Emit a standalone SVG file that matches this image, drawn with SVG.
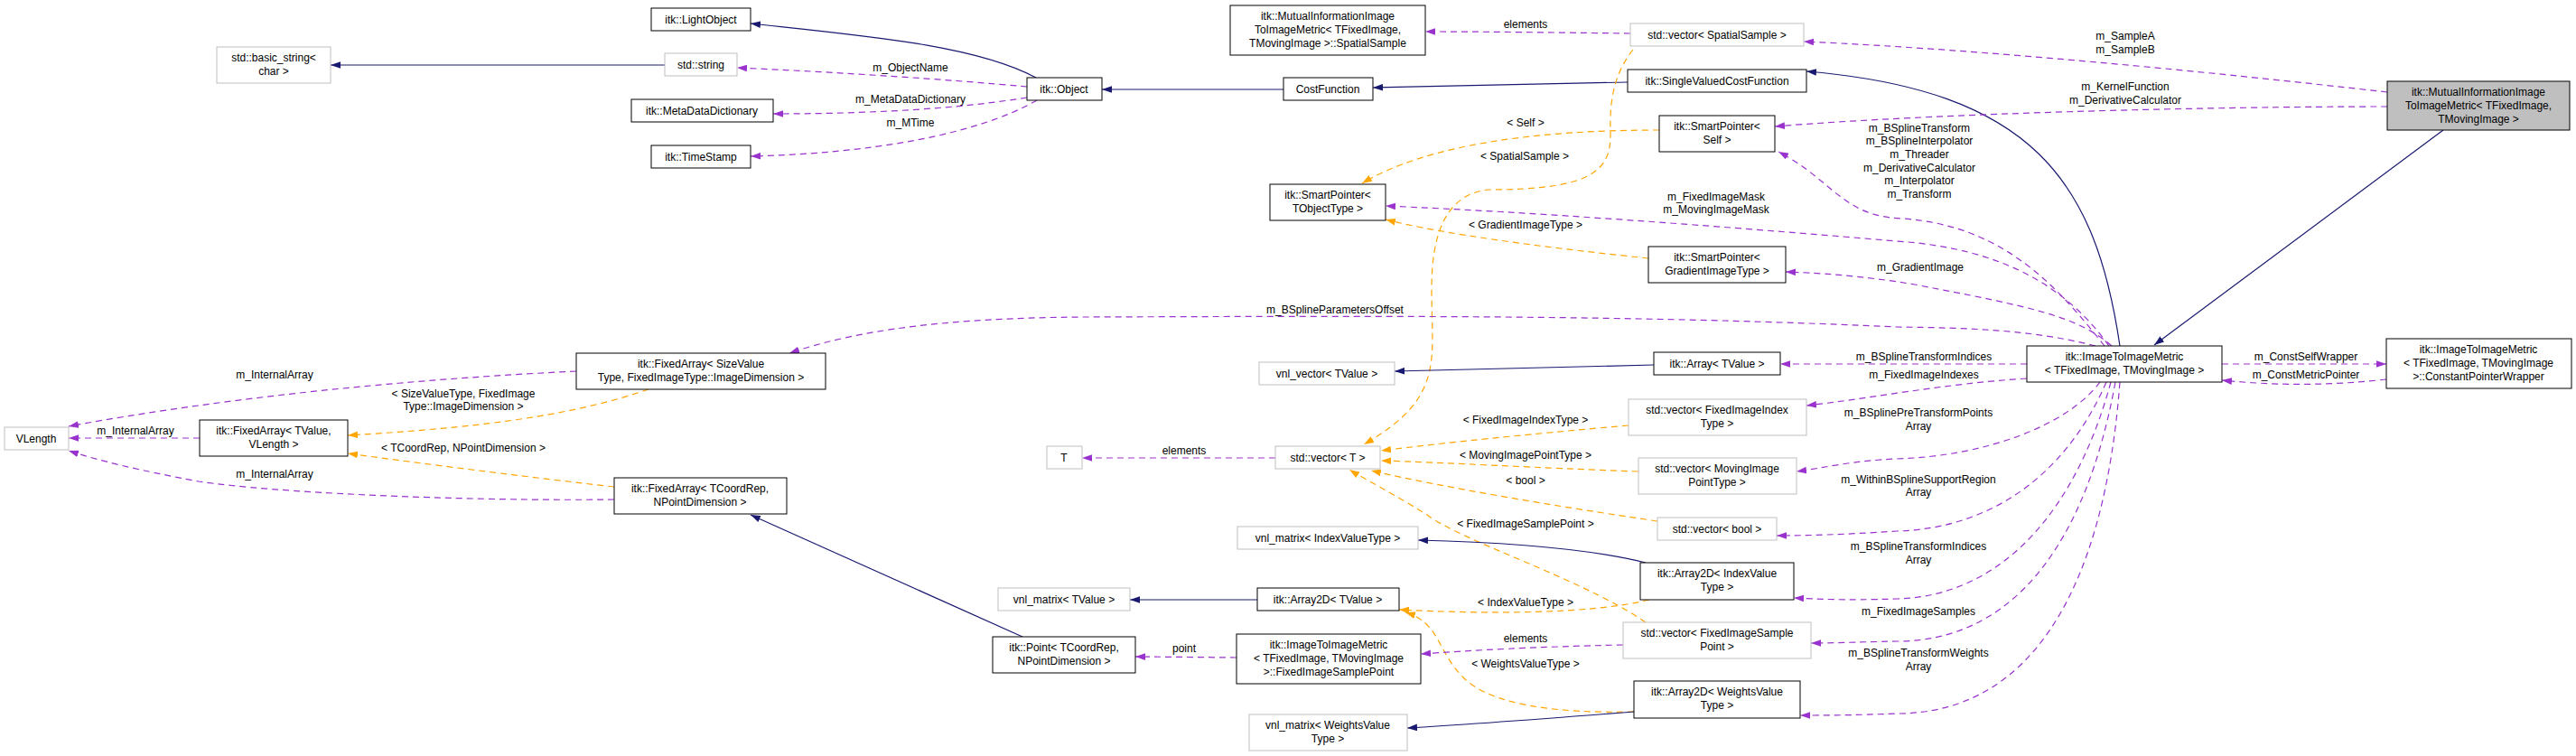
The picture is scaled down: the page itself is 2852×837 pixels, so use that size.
<svg xmlns="http://www.w3.org/2000/svg" width="2852" height="837" viewBox="0 0 2852 837">
<style>
text{font-family:"Liberation Sans",Arial,sans-serif;font-size:12px;fill:#000;text-anchor:middle}
.n rect{fill:#fff;stroke:#000;stroke-width:1}
.g rect{fill:#fff;stroke:#bfbfbf;stroke-width:1}
.inh{fill:none;stroke:#191970;stroke-width:1.2;marker-end:url(#mn)}
.use{fill:none;stroke:#9a32cd;stroke-width:1.2;stroke-dasharray:7,5;marker-end:url(#mp)}
.tpl{fill:none;stroke:#ffa500;stroke-width:1.2;stroke-dasharray:7,5;marker-end:url(#mo)}
</style>
<defs>
<marker id="mn" viewBox="0 0 10 7" refX="10" refY="3.5" markerWidth="11" markerHeight="8" markerUnits="userSpaceOnUse" orient="auto"><path d="M0,0L10,3.5L0,7z" fill="#191970"/></marker>
<marker id="mp" viewBox="0 0 10 7" refX="10" refY="3.5" markerWidth="11" markerHeight="8" markerUnits="userSpaceOnUse" orient="auto"><path d="M0,0L10,3.5L0,7z" fill="#9a32cd"/></marker>
<marker id="mo" viewBox="0 0 10 7" refX="10" refY="3.5" markerWidth="11" markerHeight="8" markerUnits="userSpaceOnUse" orient="auto"><path d="M0,0L10,3.5L0,7z" fill="#ffa500"/></marker>
</defs>
<rect width="2852" height="837" fill="#fff"/>
<g id="edges">
<path class="inh" d="M736,72L366,72"/>
<path class="inh" d="M1147,86C1080,50 960,40 831,26"/>
<path class="use" d="M1137,96C1050,88 930,80 816,75"/>
<text x="1008" y="79">m_ObjectName</text>
<path class="use" d="M1137,108C1050,122 950,126 856,126"/>
<text x="1008" y="114">m_MetaDataDictionary</text>
<path class="use" d="M1148,111C1080,150 960,170 831,173"/>
<text x="1008" y="140">m_MTime</text>
<path class="inh" d="M1421,99L1220,99"/>
<path class="inh" d="M1802,91L1520,97"/>
<path class="use" d="M1805,37C1720,36 1650,35 1578,35"/>
<text x="1689" y="31">elements</text>
<path class="inh" d="M2347,383C2320,200 2250,100 2000,79"/>
<path class="use" d="M2643,102C2450,80 2200,55 1997,46"/>
<text x="2353" y="44">m_SampleA</text><text x="2353" y="59">m_SampleB</text>
<path class="use" d="M2643,118C2450,118 2150,125 1965,140"/>
<text x="2353" y="100">m_KernelFunction</text><text x="2353" y="115">m_DerivativeCalculator</text>
<path class="inh" d="M2705,144L2385,382"/>
<path class="tpl" d="M1837,144C1700,144 1580,160 1508,203"/>
<text x="1689" y="140">&lt; Self &gt;</text>
<path class="tpl" d="M1808,55C1780,90 1783,130 1783,150C1783,190 1760,210 1648,210C1600,215 1585,260 1585,320C1585,400 1600,440 1510,492"/>
<text x="1688" y="177">&lt; SpatialSample &gt;</text>
<path class="tpl" d="M1825,286C1720,275 1600,260 1534,243"/>
<text x="1689" y="253">&lt; GradientImageType &gt;</text>
<path class="use" d="M2330,383C2280,320 2220,250 2107,242C2040,240 2030,200 1969,168"/>
<text x="2125" y="146">m_BSplineTransform</text><text x="2125" y="160">m_BSplineInterpolator</text><text x="2125" y="175">m_Threader</text><text x="2125" y="190">m_DerivativeCalculator</text><text x="2125" y="204">m_Interpolator</text><text x="2125" y="219">m_Transform</text>
<path class="use" d="M2335,383C2290,320 2220,275 2100,267C1900,250 1700,235 1534,228"/>
<text x="1900" y="222">m_FixedImageMask</text><text x="1900" y="236">m_MovingImageMask</text>
<path class="use" d="M2338,383C2300,350 2250,340 2120,315C2060,305 2010,302 1977,301"/>
<text x="2126" y="300">m_GradientImage</text>
<path class="use" d="M2320,383C2250,365 2180,363 2100,362C1800,348 1500,350 1200,351C1050,352 950,365 874,391"/>
<text x="1478" y="347">m_BSplineParametersOffset</text>
<path class="use" d="M638,411C450,420 250,440 76,472"/>
<text x="304" y="419">m_InternalArray</text>
<path class="use" d="M221,485L76,485"/>
<text x="150" y="481">m_InternalArray</text>
<path class="use" d="M680,553C500,555 300,545 220,533C150,520 110,510 76,499"/>
<text x="304" y="529">m_InternalArray</text>
<path class="tpl" d="M718,431C620,465 500,475 385,482"/>
<text x="513" y="440">&lt; SizeValueType, FixedImage</text><text x="513" y="454">Type::ImageDimension &gt;</text>
<path class="tpl" d="M680,539C600,530 480,515 385,502"/>
<text x="513" y="500">&lt; TCoordRep, NPointDimension &gt;</text>
<path class="inh" d="M1132,705L831,570"/>
<path class="inh" d="M1831,404L1544,411"/>
<path class="use" d="M2244,403L1971,403"/>
<text x="2130" y="399">m_BSplineTransformIndices</text>
<path class="use" d="M2244,419C2150,425 2080,440 2000,449"/>
<text x="2130" y="419">m_FixedImageIndexes</text>
<path class="use" d="M2325,423C2290,470 2200,505 2100,508C2050,510 2020,518 1989,522"/>
<text x="2124" y="461">m_BSplinePreTransformPoints</text><text x="2124" y="476">Array</text>
<path class="use" d="M2332,423C2290,520 2210,585 2100,588C2040,592 2000,593 1967,593"/>
<text x="2124" y="535">m_WithinBSplineSupportRegion</text><text x="2124" y="549">Array</text>
<path class="use" d="M2337,423C2300,560 2220,660 2100,663C2040,665 2010,663 1986,662"/>
<text x="2124" y="609">m_BSplineTransformIndices</text><text x="2124" y="624">Array</text>
<path class="use" d="M2342,423C2310,600 2230,710 2100,710C2050,711 2030,712 2005,712"/>
<text x="2124" y="681">m_FixedImageSamples</text>
<path class="use" d="M2347,423C2330,650 2250,790 2100,790C2050,792 2020,792 1993,792"/>
<text x="2124" y="727">m_BSplineTransformWeights</text><text x="2124" y="742">Array</text>
<path class="use" d="M2460,403L2642,403"/>
<text x="2553" y="399">m_ConstSelfWrapper</text>
<path class="use" d="M2642,420C2580,427 2520,427 2460,421"/>
<text x="2553" y="419">m_ConstMetricPointer</text>
<path class="use" d="M1412,507L1198,507"/>
<text x="1311" y="503">elements</text>
<path class="tpl" d="M1803,471C1700,480 1600,490 1529,499"/>
<text x="1689" y="469">&lt; FixedImageIndexType &gt;</text>
<path class="tpl" d="M1814,522C1700,518 1600,512 1529,510"/>
<text x="1689" y="508">&lt; MovingImagePointType &gt;</text>
<path class="tpl" d="M1835,577C1720,560 1600,540 1518,521"/>
<text x="1689" y="536">&lt; bool &gt;</text>
<path class="tpl" d="M1822,689C1750,640 1620,600 1580,570C1540,545 1510,530 1494,520"/>
<text x="1689" y="584">&lt; FixedImageSamplePoint &gt;</text>
<path class="inh" d="M1822,623C1750,605 1650,600 1570,598"/>
<path class="inh" d="M1392,664L1251,664"/>
<path class="tpl" d="M1826,664C1760,680 1650,680 1549,675"/>
<text x="1689" y="671">&lt; IndexValueType &gt;</text>
<path class="tpl" d="M1809,788C1720,790 1650,780 1620,750C1590,720 1595,690 1556,678"/>
<text x="1689" y="739">&lt; WeightsValueType &gt;</text>
<path class="use" d="M1797,714C1700,716 1630,720 1573,724"/>
<text x="1689" y="711">elements</text>
<path class="inh" d="M1809,788C1720,795 1630,802 1558,806"/>
<path class="use" d="M1369,728L1257,727"/>
<text x="1311" y="722">point</text>
</g>
<g id="n1" class="g"><rect x="240" y="52" width="126" height="40"/><text x="303" y="68">std::basic_string&lt;</text><text x="303" y="83">char &gt;</text></g>
<g id="n2" class="n"><rect x="721" y="9" width="110" height="25"/><text x="776" y="26">itk::LightObject</text></g>
<g id="n3" class="g"><rect x="736" y="59" width="80" height="25"/><text x="776" y="76">std::string</text></g>
<g id="n4" class="n"><rect x="699" y="110" width="157" height="25"/><text x="777" y="127">itk::MetaDataDictionary</text></g>
<g id="n5" class="n"><rect x="721" y="161" width="110" height="25"/><text x="776" y="178">itk::TimeStamp</text></g>
<g id="n6" class="n"><rect x="1137" y="86" width="83" height="25"/><text x="1178" y="103">itk::Object</text></g>
<g id="n7" class="n"><rect x="1362" y="6" width="216" height="55"/><text x="1470" y="22">itk::MutualInformationImage</text><text x="1470" y="37">ToImageMetric&lt; TFixedImage,</text><text x="1470" y="52">TMovingImage &gt;::SpatialSample</text></g>
<g id="n8" class="g"><rect x="1805" y="26" width="192" height="25"/><text x="1901" y="43">std::vector&lt; SpatialSample &gt;</text></g>
<g id="n9" class="n"><rect x="1421" y="86" width="99" height="25"/><text x="1470" y="103">CostFunction</text></g>
<g id="n10" class="n"><rect x="1802" y="77" width="198" height="25"/><text x="1901" y="94">itk::SingleValuedCostFunction</text></g>
<g id="n11" class="n"><rect x="1837" y="128" width="128" height="40"/><text x="1901" y="144">itk::SmartPointer&lt;</text><text x="1901" y="159">Self &gt;</text></g>
<g id="n12" class="n"><rect x="1406" y="204" width="128" height="40"/><text x="1470" y="220">itk::SmartPointer&lt;</text><text x="1470" y="235">TObjectType &gt;</text></g>
<g id="n13" class="n"><rect x="1825" y="273" width="152" height="40"/><text x="1901" y="289">itk::SmartPointer&lt;</text><text x="1901" y="304">GradientImageType &gt;</text></g>
<g id="n14"><rect x="2643" y="90" width="202" height="54" fill="#bfbfbf" stroke="#000"/><text x="2744" y="106">itk::MutualInformationImage</text><text x="2744" y="121">ToImageMetric&lt; TFixedImage,</text><text x="2744" y="136">TMovingImage &gt;</text></g>
<g id="n15" class="n"><rect x="638" y="391" width="276" height="40"/><text x="776" y="407">itk::FixedArray&lt; SizeValue</text><text x="776" y="422">Type, FixedImageType::ImageDimension &gt;</text></g>
<g id="n16" class="g"><rect x="5" y="473" width="71" height="25"/><text x="40" y="490">VLength</text></g>
<g id="n17" class="n"><rect x="221" y="465" width="164" height="40"/><text x="303" y="481">itk::FixedArray&lt; TValue,</text><text x="303" y="496">VLength &gt;</text></g>
<g id="n18" class="n"><rect x="680" y="529" width="191" height="40"/><text x="775" y="545">itk::FixedArray&lt; TCoordRep,</text><text x="775" y="560">NPointDimension &gt;</text></g>
<g id="n19" class="g"><rect x="1394" y="401" width="150" height="25"/><text x="1469" y="418">vnl_vector&lt; TValue &gt;</text></g>
<g id="n20" class="n"><rect x="1831" y="390" width="140" height="25"/><text x="1901" y="407">itk::Array&lt; TValue &gt;</text></g>
<g id="n21" class="g"><rect x="1159" y="494" width="39" height="25"/><text x="1178" y="511">T</text></g>
<g id="n22" class="g"><rect x="1412" y="494" width="116" height="25"/><text x="1470" y="511">std::vector&lt; T &gt;</text></g>
<g id="n23" class="g"><rect x="1803" y="442" width="197" height="40"/><text x="1901" y="458">std::vector&lt; FixedImageIndex</text><text x="1901" y="473">Type &gt;</text></g>
<g id="n24" class="g"><rect x="1814" y="507" width="175" height="40"/><text x="1901" y="523">std::vector&lt; MovingImage</text><text x="1901" y="538">PointType &gt;</text></g>
<g id="n25" class="g"><rect x="1835" y="573" width="132" height="25"/><text x="1901" y="590">std::vector&lt; bool &gt;</text></g>
<g id="n26" class="g"><rect x="1370" y="583" width="200" height="25"/><text x="1470" y="600">vnl_matrix&lt; IndexValueType &gt;</text></g>
<g id="n27" class="n"><rect x="1816" y="623" width="170" height="41"/><text x="1901" y="639">itk::Array2D&lt; IndexValue</text><text x="1901" y="654">Type &gt;</text></g>
<g id="n28" class="g"><rect x="1105" y="651" width="146" height="25"/><text x="1178" y="668">vnl_matrix&lt; TValue &gt;</text></g>
<g id="n29" class="n"><rect x="1392" y="651" width="157" height="25"/><text x="1470" y="668">itk::Array2D&lt; TValue &gt;</text></g>
<g id="n30" class="n"><rect x="1099" y="705" width="158" height="40"/><text x="1178" y="721">itk::Point&lt; TCoordRep,</text><text x="1178" y="736">NPointDimension &gt;</text></g>
<g id="n31" class="n"><rect x="1369" y="702" width="204" height="55"/><text x="1471" y="718">itk::ImageToImageMetric</text><text x="1471" y="733">&lt; TFixedImage, TMovingImage</text><text x="1471" y="748">&gt;::FixedImageSamplePoint</text></g>
<g id="n32" class="g"><rect x="1797" y="689" width="208" height="40"/><text x="1901" y="705">std::vector&lt; FixedImageSample</text><text x="1901" y="720">Point &gt;</text></g>
<g id="n33" class="n"><rect x="1809" y="754" width="184" height="41"/><text x="1901" y="770">itk::Array2D&lt; WeightsValue</text><text x="1901" y="785">Type &gt;</text></g>
<g id="n34" class="g"><rect x="1383" y="791" width="175" height="40"/><text x="1470" y="807">vnl_matrix&lt; WeightsValue</text><text x="1470" y="822">Type &gt;</text></g>
<g id="n35" class="n"><rect x="2244" y="383" width="216" height="40"/><text x="2352" y="399">itk::ImageToImageMetric</text><text x="2352" y="414">&lt; TFixedImage, TMovingImage &gt;</text></g>
<g id="n36" class="n"><rect x="2642" y="375" width="205" height="55"/><text x="2744" y="391">itk::ImageToImageMetric</text><text x="2744" y="406">&lt; TFixedImage, TMovingImage</text><text x="2744" y="421">&gt;::ConstantPointerWrapper</text></g>
</svg>
